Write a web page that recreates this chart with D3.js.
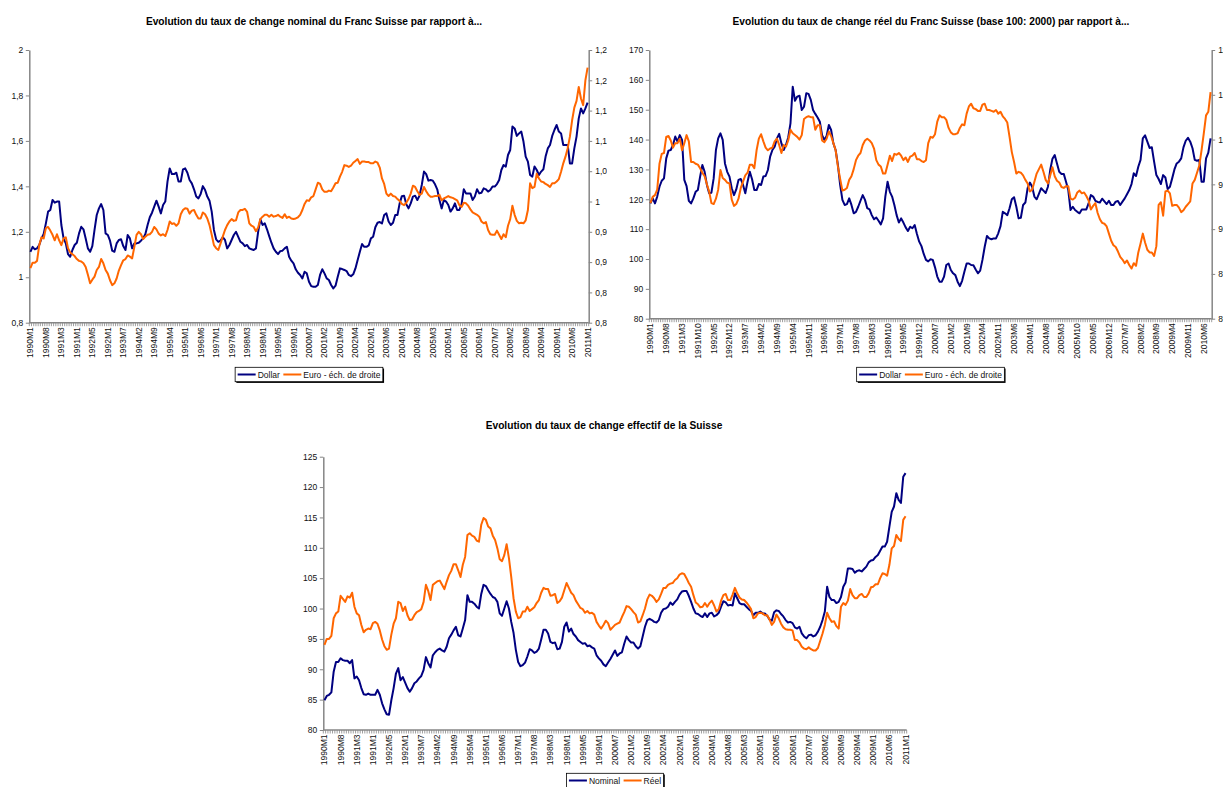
<!DOCTYPE html>
<html>
<head>
<meta charset="utf-8">
<script src="https://d3js.org/d3.v7.min.js"></script>
<style>
  body { margin: 0; background: #fff; }
  svg { display: block; font-family: "Liberation Sans", Arial, sans-serif; }
</style>
</head>
<body>
<svg id="chart" width="1223" height="787"></svg>
<script>
// ---- data (monthly, from 1990M1) ----
const dollarNominal = [
1.112,1.134,1.123,1.127,1.142,1.171,1.190,1.237,1.289,1.296,
1.340,1.328,1.333,1.333,1.230,1.171,1.149,1.102,1.090,1.120,
1.142,1.152,1.193,1.222,1.211,1.171,1.127,1.112,1.137,1.208,
1.274,1.303,1.322,1.296,1.193,1.186,1.161,1.117,1.112,1.149,
1.164,1.167,1.137,1.120,1.186,1.171,1.127,1.149,1.149,1.152,
1.161,1.171,1.190,1.230,1.264,1.284,1.311,1.337,1.311,1.281,
1.318,1.333,1.421,1.479,1.454,1.454,1.460,1.421,1.421,1.475,
1.479,1.460,1.428,1.413,1.387,1.355,1.347,1.366,1.401,1.384,
1.355,1.337,1.289,1.208,1.167,1.156,1.161,1.176,1.164,1.127,
1.142,1.164,1.186,1.200,1.178,1.156,1.149,1.137,1.142,1.127,
1.123,1.120,1.127,1.200,1.255,1.230,1.237,1.211,1.181,1.152,
1.127,1.112,1.102,1.115,1.117,1.127,1.134,1.090,1.073,1.061,
1.035,1.020,1.010,0.995,1.024,1.017,0.980,0.961,0.958,0.958,
0.966,1.010,1.035,1.017,0.995,0.988,0.966,0.951,0.963,1.002,
1.039,1.036,1.032,1.027,1.010,1.005,1.013,1.039,1.076,1.112,
1.146,1.134,1.134,1.140,1.171,1.178,1.220,1.240,1.243,1.237,
1.274,1.281,1.245,1.230,1.240,1.274,1.274,1.325,1.357,1.359,
1.321,1.303,1.325,1.355,1.359,1.340,1.359,1.406,1.465,1.454,
1.425,1.428,1.425,1.409,1.387,1.340,1.303,1.340,1.333,1.318,
1.289,1.303,1.325,1.296,1.296,1.322,1.387,1.369,1.369,1.369,
1.340,1.355,1.387,1.369,1.372,1.391,1.387,1.377,1.384,1.399,
1.399,1.410,1.428,1.472,1.494,1.487,1.538,1.560,1.663,1.655,
1.622,1.633,1.641,1.597,1.531,1.509,1.450,1.443,1.487,1.472,
1.450,1.465,1.475,1.531,1.567,1.582,1.622,1.648,1.670,1.641,
1.633,1.582,1.582,1.582,1.501,1.501,1.567,1.619,1.699,1.743,
1.721,1.743,1.768];

const euroNominal = [
0.890,0.899,0.899,0.902,0.928,0.941,0.939,0.956,0.958,0.952,
0.945,0.936,0.946,0.936,0.928,0.939,0.941,0.923,0.916,0.913,
0.910,0.905,0.902,0.901,0.898,0.892,0.879,0.865,0.871,0.876,
0.887,0.892,0.905,0.898,0.887,0.881,0.870,0.862,0.865,0.873,
0.886,0.895,0.903,0.905,0.911,0.909,0.906,0.925,0.945,0.950,
0.946,0.938,0.942,0.945,0.946,0.950,0.958,0.954,0.947,0.944,
0.946,0.943,0.953,0.967,0.963,0.964,0.960,0.964,0.979,0.986,
0.989,0.988,0.980,0.985,0.986,0.978,0.972,0.972,0.982,0.979,
0.972,0.961,0.945,0.928,0.923,0.920,0.931,0.942,0.953,0.961,
0.967,0.971,0.968,0.969,0.982,0.986,0.986,0.988,0.983,0.964,
0.960,0.958,0.951,0.957,0.971,0.975,0.978,0.978,0.975,0.978,
0.975,0.976,0.978,0.975,0.973,0.979,0.973,0.975,0.972,0.971,
0.972,0.974,0.978,0.986,0.996,1.002,1.001,1.007,1.009,1.020,
1.031,1.029,1.020,1.016,1.016,1.018,1.017,1.023,1.030,1.031,
1.041,1.049,1.060,1.059,1.057,1.059,1.064,1.067,1.070,1.062,
1.066,1.066,1.065,1.065,1.063,1.063,1.066,1.064,1.056,1.038,
1.029,1.013,1.009,1.013,1.009,1.008,1.004,1.001,0.996,0.994,
0.998,1.004,1.013,1.026,1.024,1.017,1.011,1.013,1.024,1.017,
1.011,1.008,1.008,1.009,1.009,1.011,1.002,1.005,1.007,1.009,
1.007,1.006,1.004,1.002,0.994,0.991,0.998,0.997,0.993,0.987,
0.982,0.980,0.978,0.975,0.967,0.964,0.966,0.953,0.946,0.945,
0.945,0.952,0.945,0.938,0.946,0.941,0.960,0.971,0.993,0.978,
0.968,0.964,0.965,0.964,0.969,0.986,1.030,1.022,1.024,1.046,
1.038,1.033,1.032,1.029,1.027,1.024,1.030,1.030,1.033,1.037,
1.049,1.063,1.074,1.088,1.107,1.134,1.155,1.166,1.189,1.170,
1.159,1.200,1.221];

const dollarReal = [
118.6,120.3,118.6,120.9,124.2,126.2,127.0,133.7,136.3,136.5,
138.2,141.0,139.3,141.5,139.9,126.5,124.4,119.5,118.6,120.3,
122.5,123.1,127.6,131.5,129.2,124.8,122.0,122.2,127.0,136.5,
140.4,142.1,139.9,132.0,129.2,127.6,123.7,121.4,123.3,126.5,
126.8,124.8,122.0,125.9,129.2,126.7,123.1,123.1,125.1,124.8,
127.6,127.8,129.8,134.3,136.5,137.6,140.4,141.9,138.7,136.5,
138.2,140.7,145.4,157.7,153.0,154.4,154.7,149.9,151.0,155.5,
155.3,153.3,149.9,148.6,147.4,146.0,141.5,139.9,141.2,144.9,
143.2,138.7,136.5,131.5,124.8,119.8,118.1,118.4,120.3,118.1,
115.3,115.8,117.5,119.5,121.4,119.8,117.0,116.6,114.7,113.3,
113.9,112.8,111.6,113.6,120.9,125.9,122.5,120.9,118.1,114.7,
112.2,113.6,112.2,110.6,109.4,110.8,110.3,111.4,108.4,105.8,
104.3,101.7,99.7,99.2,99.9,99.7,97.2,94.1,92.4,92.4,
94.1,98.0,98.5,96.3,95.2,94.6,92.4,90.9,92.7,95.7,
98.5,98.5,98.0,97.9,96.5,95.2,96.1,99.7,104.1,107.7,
106.9,106.6,106.9,106.9,108.6,111.0,115.8,115.3,114.7,117.0,
120.0,120.7,117.5,113.6,113.8,118.1,118.9,123.7,125.6,124.2,
120.9,120.0,121.8,123.7,122.9,122.1,124.2,129.8,133.6,134.8,
132.0,129.2,128.5,128.5,125.9,123.1,116.4,117.5,116.4,115.8,
115.3,116.6,116.6,116.6,118.6,121.4,120.9,119.5,119.1,118.9,
120.2,119.3,118.4,119.5,118.1,118.1,119.2,119.4,118.1,119.2,
120.3,121.7,123.1,125.1,128.7,127.8,130.9,133.2,140.4,141.4,
139.3,137.2,137.4,132.6,128.1,126.8,125.1,128.1,127.3,123.4,
124.2,127.0,130.0,132.0,132.6,133.7,137.4,139.6,140.6,139.3,
137.1,133.2,132.9,133.2,125.9,125.9,133.7,135.6,140.4];

const euroReal = [
92.9,93.6,93.8,94.4,97.3,98.4,98.5,100.3,100.4,99.9,
99.1,99.6,99.6,100.1,98.8,99.6,100.5,99.8,97.5,97.5,
97.3,97.2,96.8,96.3,95.9,95.0,94.2,92.9,92.8,93.4,
94.4,96.6,95.7,95.5,95.2,95.1,93.3,92.6,92.8,93.4,
94.6,95.3,96.0,96.3,97.2,97.2,96.8,98.8,100.1,100.6,
99.8,99.1,98.8,99.0,99.1,99.8,100.1,99.4,98.5,99.4,
99.2,99.9,101.1,100.7,100.5,100.3,100.0,100.5,102.3,102.5,
102.6,102.5,102.5,101.1,101.6,101.6,99.9,99.7,100.1,100.9,
100.4,99.6,98.8,97.0,95.6,94.3,94.4,94.6,95.5,95.9,
96.7,97.7,98.2,98.5,99.4,99.9,100.1,99.9,99.6,99.0,
97.7,97.2,97.0,96.2,96.2,97.2,98.2,97.6,98.4,98.3,
98.5,98.2,97.7,98.0,97.5,98.1,98.2,98.5,97.8,97.8,
97.6,97.5,97.7,99.6,100.3,100.2,100.6,102.0,102.7,102.5,
102.5,102.2,101.3,100.8,100.6,100.6,100.7,101.3,101.7,101.6,
102.9,103.7,104.0,103.5,103.4,103.2,103.2,103.9,104.0,103.3,
103.3,103.2,103.1,103.3,102.9,103.1,102.6,102.3,101.9,100.3,
98.6,97.5,96.2,96.4,96.3,96.0,95.5,95.1,94.2,94.4,
95.3,96.2,96.7,97.2,96.4,95.5,95.1,96.0,96.9,95.9,
95.4,95.2,94.7,94.6,94.8,94.8,93.4,93.3,93.5,94.1,
94.3,94.0,94.1,93.7,93.2,92.2,92.6,92.9,91.8,91.1,
90.7,90.6,90.3,89.5,88.7,88.2,88.0,87.5,86.9,86.6,
86.2,86.5,86.0,85.6,86.2,85.9,87.4,88.4,89.5,88.5,
87.7,87.4,87.4,87.0,88.1,92.7,93.0,91.5,94.2,94.3,
94.0,92.6,92.7,92.7,92.4,91.9,92.1,92.5,92.8,93.1,
95.1,95.5,96.3,97.1,98.8,100.7,102.7,103.1,105.3];

const nominalEff = [
84.9,85.6,85.8,86.2,89.6,91.2,91.2,91.8,91.5,91.4,
91.4,91.0,91.5,88.5,88.8,88.2,86.9,85.9,85.8,86.0,
85.8,85.8,85.8,86.6,85.8,84.4,83.4,82.6,82.5,84.9,
86.9,89.3,90.2,88.2,88.7,87.8,86.9,86.3,86.9,87.7,
88.0,88.5,88.9,89.9,92.0,91.0,90.3,92.3,92.8,93.2,
93.4,93.1,92.9,93.7,95.1,95.7,96.4,97.0,95.6,95.4,
96.7,98.1,102.2,101.1,101.1,100.8,100.3,100.0,102.4,103.9,
103.7,103.0,102.4,101.9,101.7,101.1,99.2,98.8,100.0,101.2,
100.0,97.8,96.0,93.2,91.2,90.5,90.7,91.1,92.1,93.3,
93.1,92.7,92.9,93.4,94.9,96.5,96.5,95.9,94.5,94.3,
94.4,93.3,93.4,94.5,97.0,97.7,96.2,96.7,95.8,95.4,
94.8,94.5,94.2,94.3,93.8,93.9,93.6,93.4,92.3,91.8,
91.4,90.8,90.5,91.1,91.7,92.4,93.1,92.2,92.6,92.8,
94.2,95.4,94.8,94.4,94.4,93.8,93.4,93.8,95.4,97.0,
98.1,98.3,98.1,97.8,97.7,98.1,99.3,99.9,100.0,100.3,
101.0,100.6,101.1,101.5,102.3,102.8,102.9,102.9,102.1,101.1,
100.0,99.2,99.1,98.8,98.6,99.2,98.6,99.2,99.3,98.7,
98.9,99.3,100.3,101.2,101.0,100.5,100.6,100.5,102.5,101.7,
100.9,100.7,100.7,100.3,99.9,99.6,98.9,99.3,99.3,99.5,
99.2,99.2,98.8,98.2,98.0,99.4,99.7,99.6,99.1,98.7,
98.1,97.7,97.8,97.6,96.9,96.7,97.0,95.9,95.4,95.1,
95.6,95.7,95.4,95.6,96.2,97.0,98.1,99.5,103.6,101.9,
101.4,101.4,100.9,101.1,101.9,103.6,104.3,106.6,106.6,106.5,
105.9,106.2,106.3,106.1,106.5,106.9,107.6,107.9,108.0,108.5,
108.8,109.5,110.2,110.2,111.0,113.5,115.9,116.8,119.0,117.9,
117.4,121.7,122.3];

const reelEff = [
94.0,95.0,95.0,95.5,98.4,99.2,99.5,102.1,101.6,101.1,
102.0,101.8,102.6,100.3,99.2,98.9,97.3,96.1,96.5,96.7,
96.6,97.6,97.8,97.5,96.4,94.9,93.8,93.2,93.4,95.7,
97.5,98.4,101.1,100.9,99.6,100.3,98.9,98.1,98.2,98.9,
99.4,99.6,99.9,101.1,103.9,102.9,101.4,103.9,104.2,104.5,
104.6,103.9,103.2,104.4,105.5,106.2,107.3,107.3,106.3,105.2,
107.2,108.5,112.1,112.4,112.0,111.8,111.2,111.0,113.8,114.9,
114.6,113.5,113.2,112.0,111.3,109.9,108.1,107.8,108.8,110.6,
108.3,105.2,101.7,99.5,98.4,98.6,99.5,99.5,100.3,99.6,
99.9,100.2,100.9,101.4,102.6,103.4,103.2,103.2,102.1,102.2,
102.4,100.9,101.2,101.8,103.0,104.2,103.4,102.6,102.2,101.3,
100.7,100.1,99.9,99.3,99.6,99.2,99.3,99.0,97.8,97.2,
96.7,97.3,98.0,97.6,96.5,96.9,97.3,97.5,97.7,98.6,
99.4,100.4,100.3,99.9,99.4,99.0,97.7,97.9,98.9,100.0,
101.5,102.3,102.1,101.7,101.1,101.5,102.4,103.4,103.4,103.9,
104.1,104.2,104.7,105.0,105.6,105.8,105.7,105.0,104.2,103.6,
102.2,101.0,100.7,100.2,100.3,100.9,100.3,100.9,101.3,100.5,
99.5,99.9,101.3,102.2,102.4,101.4,101.4,102.3,103.4,102.5,
101.8,101.5,101.4,101.0,100.5,99.9,98.4,98.6,99.2,99.3,
99.2,98.9,98.9,98.2,97.3,97.8,99.0,98.4,97.5,96.9,
96.6,96.5,96.5,96.4,94.8,94.8,94.4,93.7,93.4,93.3,
93.6,93.3,93.1,93.1,93.5,94.7,95.9,97.3,99.3,98.4,
97.8,97.9,97.1,96.7,100.3,100.9,100.6,101.3,103.2,102.2,
101.7,101.7,102.2,102.4,101.9,101.9,102.5,103.5,103.6,104.0,
104.0,105.0,105.8,105.7,105.4,107.2,109.9,110.3,112.1,111.5,
111.1,114.6,115.2];

// category labels shown every 7 months (as printed, some are cut short)
const labelsNominal = ["1990M1","1990M8","1991M3","1991M1","1992M5","1992M1","1993M7","1994M2","1994M9",
  "1995M4","1995M1","1996M6","1997M1","1997M8","1998M3","1998M1","1999M5","1999M1","2000M7","2001M2",
  "2001M9","2002M4","2002M1","2003M6","2004M1","2004M8","2005M3","2005M1","2006M5","2006M1","2007M7",
  "2008M2","2008M9","2009M4","2009M1","2010M6","2011M1"];
const labelsReal = ["1990M1","1990M8","1991M3","1991M10","1992M5","1992M12","1993M7","1994M2","1994M9",
  "1995M4","1995M11","1996M6","1997M1","1997M8","1998M3","1998M10","1999M5","1999M12","2000M7","2001M2",
  "2001M9","2002M4","2002M11","2003M6","2004M1","2004M8","2005M3","2005M10","2006M5","2006M12","2007M7",
  "2008M2","2008M9","2009M4","2009M11","2010M6"];
const labelsEffective = labelsNominal;

const ticksNominalLeft = [0.8, 1, 1.2, 1.4, 1.6, 1.8, 2];
const ticksNominalRight = [0.8, 0.85, 0.9, 0.95, 1, 1.05, 1.1, 1.15, 1.2, 1.25];
const ticksRealLeft = [80, 90, 100, 110, 120, 130, 140, 150, 160, 170];
const ticksRealRight = [80, 85, 90, 95, 100, 105, 110];
const ticksEffective = [80, 85, 90, 95, 100, 105, 110, 115, 120, 125];

const NAVY = "#000080", ORANGE = "#ff6600", AXIS = "#868686";
const monthsFrom1990 = n => d3.range(n).map(i => (1990 + Math.floor(i / 12)) + "M" + (i % 12 + 1));
const fmt = d => String(+d.toFixed(2)).replace(".", ",");

const svg = d3.select("#chart");
const defs = svg.append("defs");
defs.append("clipPath").attr("id", "cutRight")
  .append("rect").attr("x", 0).attr("y", 0).attr("width", 607).attr("height", 787);

function styleAxis(g) {
  g.select(".domain").attr("stroke", AXIS).attr("stroke-width", 1.5);
  g.selectAll(".tick line").attr("stroke", AXIS).attr("stroke-width", 1);
  g.selectAll(".tick text").attr("fill", "#111").style("font-size", "8.5px");
}

function drawPanel(p) {
  const g = svg.append("g");
  const cats = monthsFrom1990(p.n);
  const x = d3.scaleBand().domain(cats).range([p.x0, p.x1]);
  const cx = d => x(d) + x.bandwidth() / 2;
  const yL = d3.scaleLinear().domain(p.leftDomain).range([p.yBot, p.yTop]);

  const axL = g.append("g").attr("transform", "translate(" + p.x0 + ",0)")
    .call(d3.axisLeft(yL).tickValues(p.leftTicks).tickSize(3.5).tickSizeOuter(0).tickPadding(2.5).tickFormat(fmt));
  styleAxis(axL);

  let yR = null;
  if (p.rightDomain) {
    yR = d3.scaleLinear().domain(p.rightDomain).range([p.yBot, p.yTop]);
    // wrapper without transform so the clip rect is in page coordinates
    const wrap = g.append("g");
    if (p.clipRight) wrap.attr("clip-path", "url(#cutRight)");
    const axR = wrap.append("g").attr("transform", "translate(" + p.x1 + ",0)")
      .call(d3.axisRight(yR).tickValues(p.rightTicks).tickSize(3.5).tickSizeOuter(0).tickPadding(3).tickFormat(fmt));
    styleAxis(axR);
  }

  // category axis
  g.append("line").attr("x1", p.x0).attr("x2", p.x1).attr("y1", p.yBot).attr("y2", p.yBot)
    .attr("stroke", AXIS).attr("stroke-width", 1.5);
  const bounds = cats.map(c => x(c)).concat([p.x1]);
  g.append("g").selectAll("line").data(bounds).enter().append("line")
    .attr("x1", d => d).attr("x2", d => d)
    .attr("y1", p.yBot).attr("y2", p.yBot + 3.5)
    .attr("stroke", AXIS).attr("stroke-width", 0.8);
  g.append("g").selectAll("text").data(p.labels).enter().append("text")
    .attr("transform", (d, k) => "translate(" + cx(cats[k * 7]) + "," + (p.yBot + 4.5) + ") rotate(-90)")
    .attr("dy", "0.35em")
    .attr("text-anchor", "end")
    .attr("fill", "#111")
    .style("font-size", "8.5px")
    .text(d => d);

  // series
  p.series.forEach(s => {
    const yy = s.right ? yR : yL;
    g.append("path").datum(s.values)
      .attr("fill", "none").attr("stroke", s.color).attr("stroke-width", 2)
      .attr("stroke-linejoin", "round")
      .attr("d", d3.line().x((d, i) => cx(cats[i])).y(d => yy(d)));
  });

  // title
  g.append("text").attr("x", p.titleX).attr("y", p.titleY).attr("text-anchor", "middle")
    .style("font-size", "10.2px").style("font-weight", "bold").attr("fill", "#000").text(p.title);

  // legend
  const lg = g.append("g");
  const items = [];
  let cur = 0;
  p.series.forEach(s => {
    const t = lg.append("text").style("font-size", "8.5px").attr("fill", "#111").text(s.name);
    const w = t.node().getComputedTextLength();
    items.push({ s, t, start: cur, w });
    cur += 18 + 2 + w + 3.5;
  });
  const inner = cur - 3.5;
  const boxW = inner + 5;
  const boxH = 14.4;
  const bx = (p.x0 + p.x1) / 2 - boxW / 2;
  const by = p.legendY;
  lg.insert("rect", ":first-child").attr("x", bx + 1.2).attr("y", by + 1.2).attr("width", boxW).attr("height", boxH)
    .attr("fill", "#000");
  lg.insert("rect", "text").attr("x", bx).attr("y", by).attr("width", boxW).attr("height", boxH)
    .attr("fill", "#fff").attr("stroke", "#000").attr("stroke-width", 0.8);
  const midY = by + boxH / 2;
  items.forEach(it => {
    const lx = bx + 2.5 + it.start;
    lg.append("line").attr("x1", lx).attr("x2", lx + 18).attr("y1", midY).attr("y2", midY)
      .attr("stroke", it.s.color).attr("stroke-width", 2);
    it.t.attr("x", lx + 20).attr("y", midY + 3);
  });
}

drawPanel({
  n: dollarNominal.length, x0: 29.3, x1: 588.7, yTop: 50, yBot: 322.7,
  leftDomain: [0.8, 2], leftTicks: ticksNominalLeft,
  rightDomain: [0.8, 1.25], rightTicks: ticksNominalRight, clipRight: true,
  labels: labelsNominal,
  series: [
    { name: "Dollar", values: dollarNominal, color: NAVY },
    { name: "Euro - éch. de droite", values: euroNominal, color: ORANGE, right: true }
  ],
  title: "Evolution du taux de change nominal du Franc Suisse par rapport à...",
  titleX: 314, titleY: 25, legendY: 367.3
});

drawPanel({
  n: dollarReal.length, x0: 649.3, x1: 1211.7, yTop: 50, yBot: 318.7,
  leftDomain: [80, 170], leftTicks: ticksRealLeft,
  rightDomain: [80, 110], rightTicks: ticksRealRight,
  labels: labelsReal,
  series: [
    { name: "Dollar", values: dollarReal, color: NAVY },
    { name: "Euro - éch. de droite", values: euroReal, color: ORANGE, right: true }
  ],
  title: "Evolution du taux de change réel du Franc Suisse (base 100: 2000) par rapport à...",
  titleX: 931, titleY: 25, legendY: 367.3
});

drawPanel({
  n: nominalEff.length, x0: 323.3, x1: 906.7, yTop: 456.7, yBot: 730,
  leftDomain: [80, 125], leftTicks: ticksEffective,
  labels: labelsEffective,
  series: [
    { name: "Nominal", values: nominalEff, color: NAVY },
    { name: "Réel", values: reelEff, color: ORANGE }
  ],
  title: "Evolution du taux de change effectif de la Suisse",
  titleX: 604, titleY: 429, legendY: 773.3
});
</script>
</body>
</html>
